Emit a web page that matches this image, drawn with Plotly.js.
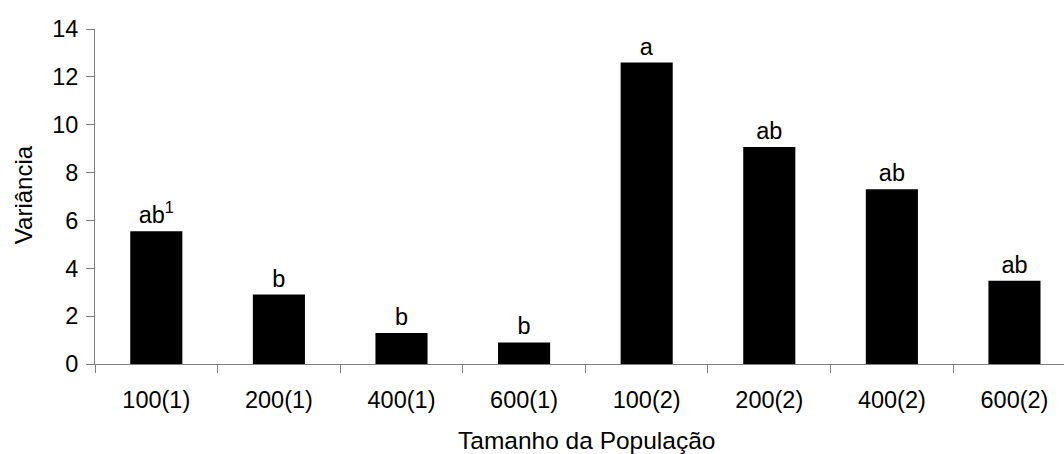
<!DOCTYPE html>
<html>
<head>
<meta charset="utf-8">
<script src="https://cdn.plot.ly/plotly-3.0.1.min.js"></script>
<style>html,body{margin:0;padding:0;background:#fff;}#chart{width:1064px;height:454px;}</style>
</head>
<body>
<div id="chart"></div>
<script>
var categories = ["100(1)", "200(1)", "400(1)", "600(1)", "100(2)", "200(2)", "400(2)", "600(2)"];
var variancia = [5.55, 2.9, 1.3, 0.9, 12.6, 9.07, 7.3, 3.48];
var letras = ["ab<sup>1</sup>", "b", "b", "b", "a", "ab", "ab", "ab"];
var yTicks = [0, 2, 4, 6, 8, 10, 12, 14];

var FONT = "'Liberation Sans', Arial, sans-serif";
var trace = {
  type: "bar",
  x: categories,
  y: variancia,
  text: letras,
  textposition: "outside",
  cliponaxis: false,
  constraintext: "none",
  textfont: {family: FONT, size: 23.5, color: "#000"},
  marker: {color: "#000", line: {color: "#000", width: 0}},
  hoverinfo: "x+y"
};

var layout = {
  width: 1064, height: 454,
  margin: {l: 95, r: 0, t: 29, b: 90, pad: 0},
  paper_bgcolor: "#fff", plot_bgcolor: "#fff",
  font: {family: FONT, size: 23.5, color: "#000"},
  bargap: 0.575,
  showlegend: false,
  xaxis: {
    type: "category",
    range: [-0.5, 7.404],
    tickson: "boundaries",
    ticks: "outside", ticklen: 8, tickwidth: 1, tickcolor: "#808080",
    showline: true, linecolor: "#808080", linewidth: 1,
    showgrid: false, zeroline: false,
    ticklabelstandoff: 15,
    tickfont: {family: FONT, size: 23.5, color: "#000"}
  },
  yaxis: {
    range: [0, 14],
    tickvals: yTicks,
    ticktext: yTicks.map(String),
    ticks: "outside", ticklen: 8, tickwidth: 1, tickcolor: "#808080",
    showline: true, linecolor: "#808080", linewidth: 1,
    showgrid: false, zeroline: false,
    ticklabelstandoff: 3,
    tickfont: {family: FONT, size: 23.5, color: "#000"}
  },
  annotations: [
    {text: "Variância", xref: "paper", yref: "paper", x: -0.0743, y: 0.504,
     xanchor: "center", yanchor: "middle", textangle: -90, showarrow: false,
     font: {family: FONT, size: 24, color: "#000"}},
    {text: "Tamanho da População", xref: "paper", yref: "paper", x: 0.5077, y: -0.228,
     xanchor: "center", yanchor: "middle", showarrow: false,
     font: {family: FONT, size: 24.5, color: "#000"}}
  ]
};

Plotly.newPlot("chart", [trace], layout, {staticPlot: true, displayModeBar: false});
</script>
</body>
</html>
